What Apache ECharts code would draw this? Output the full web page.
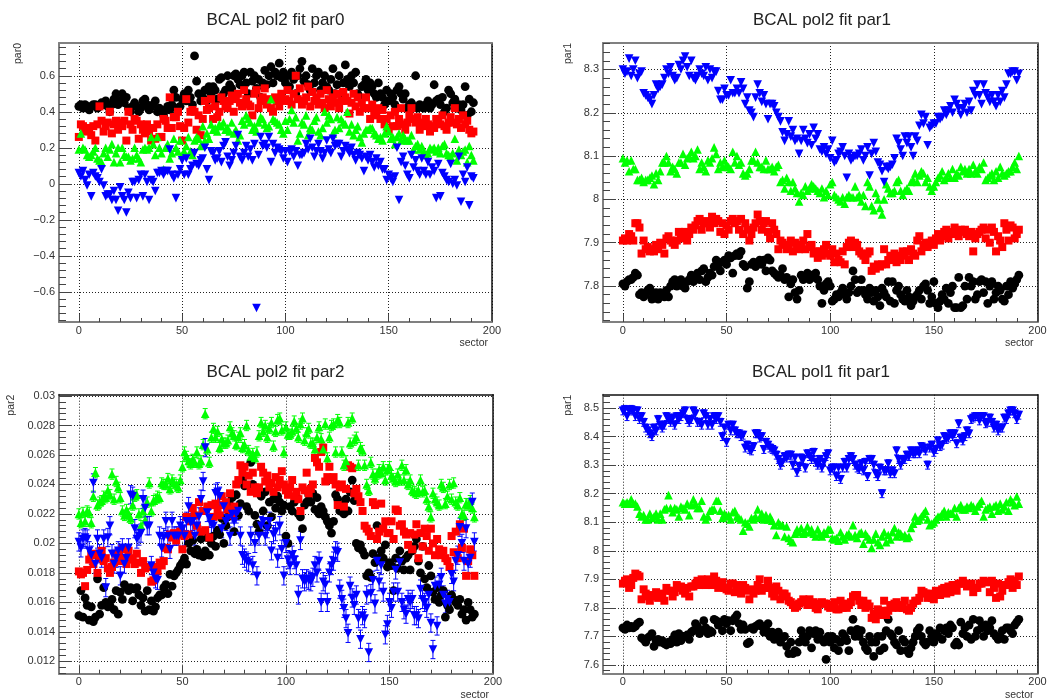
<!DOCTYPE html>
<html><head><meta charset="utf-8">
<style>html,body{margin:0;padding:0;background:#fff}#c{width:1050px;height:698px}</style>
<script src="https://cdn.jsdelivr.net/npm/echarts@6/dist/echarts.min.js"></script>
</head><body><div id="c"></div>
<script>
// par0 fit values, units of 0.01
const par0Black=[43,44,42,44,43,41,43,44,44,42,43,45,44,46,43,40,44,47,50,44,
46,50,45,48,42,40,43,45,43,40,42,46,47,44,41,43,44,46,40,42,
40,38,41,43,41,44,52,48,42,43,47,50,46,52,48,44,71,57,50,46,
48,52,46,54,50,54,52,47,58,59,50,52,60,55,53,60,61,58,55,60,
62,56,50,62,57,60,53,58,48,56,63,55,60,65,56,62,60,67,59,62,
56,60,54,62,58,50,60,64,68,57,60,55,52,64,56,60,62,52,56,60,
54,52,58,64,50,55,60,50,56,66,58,54,60,56,62,50,48,54,55,58,
52,56,54,50,48,56,50,48,44,52,46,50,48,44,52,54,50,47,50,42,
44,45,43,60,42,44,43,42,44,46,42,44,55,46,47,44,48,40,42,52,
50,45,47,42,44,41,44,54,38,47,40,45];
const par0Red=[26,33,32,29,31,30,27,32,24,33,43,35,29,32,34,40,28,33,35,30,
34,32,35,24,40,33,30,36,35,25,33,30,28,33,29,24,31,25,33,26,
26,36,35,31,48,31,37,37,40,32,24,31,47,34,40,41,40,30,38,27,
36,46,41,42,47,36,43,37,40,48,46,43,42,46,49,40,47,50,45,43,
52,47,44,43,38,50,52,42,46,48,53,44,47,42,40,48,46,43,50,46,
47,52,46,44,50,60,47,53,44,46,48,54,43,51,46,48,44,50,45,42,
52,47,43,48,45,50,42,46,51,48,46,39,45,50,43,48,40,45,42,48,
42,36,44,40,38,42,36,41,33,36,30,38,32,40,32,36,42,33,30,34,
38,42,36,34,37,30,34,32,36,33,29,32,31,36,35,33,38,32,30,34,
37,34,42,33,36,31,38,33,35,30,28,29];
const par0Green=[19,28,20,19,16,15,16,18,20,14,13,12,17,20,15,19,22,12,17,20,
12,20,16,15,15,13,14,20,16,14,12,19,20,19,20,26,22,16,26,20,
17,8,20,22,14,17,25,20,18,24,16,18,21,26,18,16,24,26,25,21,
32,24,28,25,33,30,31,29,33,32,34,30,31,29,34,28,30,24,27,35,
33,38,36,34,30,32,29,34,37,36,33,31,32,47,36,35,34,33,30,28,
35,30,36,41,34,37,24,28,34,33,38,27,31,30,35,37,29,27,31,40,
34,38,36,28,30,37,31,36,34,33,40,29,33,27,30,32,26,23,28,30,
30,31,31,28,27,25,26,24,28,32,29,25,26,22,26,28,24,27,25,24,
24,27,19,21,22,19,21,18,16,17,20,19,20,18,20,17,21,22,17,16,
15,17,25,13,19,16,18,19,12,21,16,13];
const par0Blue=[6,4,7,2,-1,5,-7,6,4,3,1,8,-1,-7,-6,-6,-9,-4,-9,-15,
-2,-7,-9,-16,-5,-8,1,1,-8,2,5,-7,5,1,-9,2,1,-4,6,6,
7,5,7,7,19,5,3,-8,5,8,13,5,14,5,8,10,17,11,10,13,
14,20,8,2,18,17,13,14,18,12,21,23,15,10,13,17,21,27,15,13,
17,21,15,19,13,22,-69,16,26,21,22,20,26,12,22,17,20,19,18,14,
18,12,18,19,15,18,10,16,16,17,22,19,25,20,15,18,22,18,14,17,
24,19,17,25,21,22,22,15,18,21,19,17,20,16,13,17,16,14,7,15,
13,16,12,9,14,10,12,8,8,2,5,3,1,4,20,-9,12,15,10,5,
3,16,9,13,7,5,14,7,5,12,5,9,7,-8,11,-7,6,4,2,1,
11,0,2,-1,15,-10,5,1,9,-12,4,3];
// par1 (pol2) values, units of 0.001
const par1Black=[7805,7800,7810,7815,7815,7820,7830,7825,7780,7785,7775,7780,7790,7795,7770,7780,7785,7770,7785,7780,
7775,7790,7775,7800,7810,7815,7800,7810,7815,7800,7795,7810,7815,7825,7810,7820,7830,7815,7835,7840,
7810,7820,7830,7825,7845,7860,7850,7835,7855,7860,7850,7870,7865,7830,7870,7875,7870,7880,7850,7845,
7795,7810,7850,7855,7845,7850,7860,7850,7860,7835,7865,7860,7835,7830,7825,7820,7825,7840,7815,7820,
7775,7805,7815,7785,7770,7790,7825,7815,7820,7830,7815,7825,7820,7830,7815,7800,7760,7790,7805,7810,
7800,7765,7770,7780,7775,7785,7795,7780,7770,7785,7800,7835,7815,7785,7790,7815,7790,7780,7770,7795,
7785,7765,7790,7775,7755,7795,7785,7775,7810,7765,7810,7760,7790,7800,7780,7770,7765,7790,7775,7755,
7765,7775,7780,7790,7770,7800,7805,7790,7760,7775,7810,7760,7750,7765,7780,7770,7795,7760,7785,7800,
7750,7750,7820,7750,7755,7800,7770,7820,7800,7810,7770,7780,7810,7815,7785,7810,7760,7800,7810,7770,
7785,7800,7790,7770,7765,7800,7780,7810,7795,7805,7815,7825];
const par1Red=[7905,7910,7905,7920,7915,7905,7945,7945,7935,7875,7905,7885,7890,7880,7885,7880,7895,7885,7900,7895,
7875,7910,7915,7905,7900,7895,7905,7925,7915,7910,7925,7905,7920,7935,7930,7940,7950,7955,7930,7945,
7950,7945,7935,7960,7945,7955,7950,7925,7945,7920,7940,7930,7950,7955,7945,7950,7930,7955,7920,7945,
7930,7905,7920,7935,7945,7965,7950,7930,7945,7950,7925,7910,7945,7930,7920,7885,7905,7900,7895,7885,
7895,7905,7880,7900,7895,7885,7895,7905,7885,7920,7890,7895,7875,7880,7865,7880,7870,7885,7895,7875,
7870,7885,7855,7875,7860,7855,7880,7850,7890,7900,7905,7890,7900,7895,7880,7875,7870,7860,7875,7880,
7835,7845,7840,7850,7845,7850,7885,7850,7860,7870,7860,7875,7855,7870,7860,7880,7870,7880,7860,7885,
7875,7870,7905,7915,7880,7895,7900,7890,7900,7905,7895,7910,7920,7905,7915,7925,7930,7910,7925,7920,
7935,7925,7915,7930,7925,7930,7920,7915,7925,7880,7910,7920,7925,7930,7935,7910,7930,7900,7935,7925,
7880,7915,7905,7890,7945,7930,7905,7940,7935,7910,7920,7930];
const par1Green=[8095,8085,8090,8065,8090,8070,8070,8045,8045,8050,8040,8045,8045,8050,8055,8035,8060,8045,8065,8085,
8085,8100,8085,8065,8075,8070,8060,8085,8085,8105,8080,8095,8100,8110,8095,8100,8115,8070,8085,8075,
8065,8090,8085,8095,8120,8105,8070,8085,8075,8090,8080,8075,8070,8110,8085,8100,8080,8085,8060,8055,
8060,8070,8090,8090,8110,8085,8075,8075,8070,8090,8070,8070,8075,8065,8075,8080,8040,8045,8025,8050,
8040,8020,8040,8025,8015,7995,8015,8010,8030,8020,8025,8035,8030,8025,8020,8015,8025,8005,8020,8010,
8035,8040,8010,8005,8000,7995,8005,7990,8005,8010,8005,8005,8030,8005,8010,7995,8010,7985,8040,8030,
7985,7975,8015,8000,7980,7965,8000,8035,8025,8015,8015,8020,8040,8045,8020,8010,8020,8025,8020,8040,
8045,8060,8040,8055,8065,8060,8040,8050,8030,8020,8030,8040,8050,8055,8065,8045,8050,8060,8050,8070,
8050,8060,8055,8075,8065,8070,8060,8070,8060,8080,8065,8060,8075,8070,8085,8045,8050,8055,8060,8045,
8065,8050,8075,8060,8055,8060,8065,8065,8075,8085,8070,8100];
const par1Blue=[8300,8290,8295,8325,8285,8300,8320,8280,8290,8295,8245,8240,8235,8230,8220,8240,8265,8255,8260,8265,
8280,8300,8290,8305,8285,8275,8280,8310,8300,8320,8330,8305,8285,8320,8280,8275,8285,8300,8290,8285,
8305,8275,8300,8280,8295,8295,8250,8230,8230,8255,8240,8240,8275,8245,8245,8255,8245,8270,8255,8220,
8235,8205,8200,8190,8235,8265,8245,8225,8240,8220,8185,8220,8220,8215,8200,8190,8180,8155,8135,8150,
8180,8145,8160,8135,8140,8105,8135,8160,8140,8130,8150,8125,8165,8140,8150,8115,8110,8120,8105,8115,
8095,8135,8085,8090,8105,8110,8120,8100,8050,8105,8090,8095,8100,8100,8105,8115,8090,8100,8120,8055,
8105,8130,8110,8085,8080,8065,8040,8075,8070,8075,8080,8095,8140,8130,8115,8100,8145,8130,8145,8120,
8100,8145,8135,8170,8195,8175,8190,8125,8165,8170,8175,8175,8190,8185,8190,8205,8195,8205,8215,8200,
8230,8220,8210,8195,8210,8220,8200,8225,8205,8250,8240,8265,8240,8220,8265,8245,8235,8225,8240,8225,
8215,8240,8225,8250,8235,8265,8290,8290,8295,8295,8275,8290];
// par2 values, units of 0.0001
const par2Black=[151,168,150,163,158,148,157,147,150,176,152,158,170,160,157,158,162,155,168,152,
167,162,172,170,168,170,161,169,170,165,158,163,154,168,155,161,154,157,163,165,
165,170,172,166,179,171,178,180,182,185,187,190,186,200,195,202,193,196,192,203,
191,195,204,192,200,205,198,209,206,217,200,212,218,226,231,208,233,219,227,243,
239,225,222,255,240,219,213,208,232,222,235,212,228,218,230,224,232,228,222,226,
205,200,225,222,228,232,220,218,210,226,228,233,228,234,223,231,220,225,222,218,
215,212,207,215,233,230,222,226,220,230,222,235,243,229,200,197,199,195,192,178,
180,177,193,187,212,190,195,190,199,184,187,185,168,190,183,195,188,182,190,192,
182,195,198,203,188,180,198,176,170,185,178,167,162,170,160,165,168,150,158,155,
165,162,160,158,162,152,155,148,160,155,150,152];
const par2Red=[181,179,180,171,182,189,192,186,193,180,190,195,188,190,183,180,184,187,193,192,
188,196,190,186,195,189,190,186,193,187,180,188,183,184,184,174,175,184,181,187,
185,188,197,196,206,204,207,202,206,208,196,205,218,206,215,224,219,212,228,208,
222,209,225,204,226,218,227,223,219,232,226,228,223,234,219,225,240,243,253,248,
252,240,246,235,248,238,234,238,252,248,242,246,238,241,235,245,238,243,249,240,
236,233,238,243,232,235,230,222,238,236,248,234,237,240,258,255,252,262,265,242,
245,252,243,245,240,226,238,240,225,237,253,252,251,234,237,232,228,222,212,210,
208,205,228,226,203,208,227,210,215,207,207,215,203,223,222,212,213,208,206,199,
207,196,206,213,190,207,198,210,205,195,210,200,192,203,196,192,195,190,188,184,
205,194,208,190,213,197,210,178,188,196,192,178];
const par2Green=[220,214,221,215,222,221,214,232,248,226,228,229,232,231,236,233,247,230,242,238,
231,222,219,223,220,217,226,232,233,220,212,222,216,228,241,222,229,230,232,231,
241,240,240,244,237,243,241,240,238,243,252,262,259,256,254,257,255,262,254,256,
267,288,264,255,272,278,272,276,265,271,268,268,270,279,275,273,267,272,275,265,
267,280,263,259,261,258,262,273,282,276,280,272,278,282,266,276,284,285,277,262,
279,274,274,276,283,278,272,281,285,270,275,278,268,268,264,272,279,271,264,281,
258,272,280,281,262,284,282,262,253,256,282,268,285,270,272,253,265,263,253,240,
236,255,247,244,247,250,248,252,243,250,252,246,244,242,247,243,253,243,250,240,
243,236,235,234,236,243,235,236,230,225,218,234,230,228,226,240,238,227,232,240,
230,241,228,226,231,220,219,227,226,229,224,218];
const par2Blue=[201,197,203,204,203,195,192,241,186,203,193,190,203,170,204,212,193,186,190,195,
178,197,186,190,197,233,232,210,203,205,207,230,224,212,212,185,180,176,175,205,
197,204,215,205,196,215,205,205,205,212,210,205,215,225,214,215,205,212,218,230,
242,265,221,217,213,212,234,235,232,210,225,215,217,205,220,215,220,222,205,192,
190,188,187,205,185,200,178,205,212,215,205,210,215,195,206,208,190,212,196,178,
200,189,185,192,189,185,165,202,176,174,176,175,174,177,185,180,188,160,174,172,
160,180,185,188,195,194,169,162,156,149,139,171,163,158,165,149,135,151,149,165,
126,166,175,159,188,174,185,167,138,145,160,156,167,182,167,187,160,155,152,162,
160,162,151,151,149,169,162,160,156,165,146,128,171,144,172,177,165,159,162,160,
179,174,188,192,211,200,188,210,186,190,228,201];
const par2ErrGreen=0.00035;
const par2ErrBlue=0.00062;
// par1 (pol1) values, units of 0.001
const pol1Black=[7730,7725,7740,7730,7735,7730,7735,7745,7750,7695,7690,7680,7695,7700,7710,7665,7685,7690,7680,7685,
7675,7670,7680,7675,7690,7705,7680,7710,7685,7700,7700,7705,7690,7715,7720,7745,7735,7710,7720,7755,
7730,7710,7720,7715,7760,7755,7740,7750,7720,7760,7745,7755,7720,7755,7765,7775,7745,7725,7740,7725,
7675,7680,7730,7725,7735,7740,7745,7735,7715,7725,7745,7700,7715,7690,7700,7715,7680,7695,7700,7665,
7640,7680,7640,7650,7645,7680,7720,7700,7680,7700,7720,7660,7710,7720,7690,7715,7690,7680,7620,7700,
7680,7700,7660,7690,7650,7680,7710,7700,7685,7650,7720,7760,7700,7725,7700,7720,7680,7660,7650,7700,
7680,7630,7680,7700,7650,7700,7660,7720,7760,7710,7700,7680,7670,7720,7650,7690,7680,7650,7640,7660,
7680,7700,7720,7730,7700,7680,7670,7680,7720,7700,7680,7710,7700,7730,7690,7720,7730,7710,7740,7730,
7670,7680,7670,7750,7710,7730,7700,7740,7690,7760,7700,7720,7755,7730,7700,7740,7720,7730,7755,7710,
7700,7690,7700,7720,7690,7730,7730,7720,7710,7740,7750,7760];
const pol1Red=[7885,7895,7900,7870,7880,7905,7920,7915,7910,7830,7865,7850,7840,7825,7845,7840,7855,7835,7850,7845,
7825,7870,7860,7860,7840,7855,7880,7870,7875,7860,7850,7870,7840,7875,7875,7885,7895,7880,7900,7890,
7880,7900,7885,7880,7910,7895,7870,7885,7890,7870,7865,7860,7885,7885,7855,7880,7860,7850,7880,7870,
7860,7830,7865,7850,7860,7880,7900,7860,7870,7870,7895,7870,7850,7840,7875,7860,7830,7850,7850,7840,
7825,7820,7810,7800,7805,7815,7820,7830,7825,7810,7830,7810,7820,7800,7795,7815,7820,7815,7815,7805,
7800,7810,7820,7795,7795,7825,7800,7815,7800,7810,7820,7840,7845,7845,7825,7810,7825,7800,7815,7805,
7765,7780,7760,7795,7775,7790,7825,7775,7790,7810,7800,7815,7820,7800,7810,7800,7825,7795,7790,7800,
7815,7825,7825,7835,7860,7855,7850,7835,7850,7835,7830,7860,7850,7845,7865,7870,7850,7875,7855,7880,
7880,7860,7885,7885,7895,7885,7875,7880,7885,7855,7870,7870,7885,7885,7895,7890,7890,7855,7895,7870,
7835,7885,7840,7860,7880,7880,7890,7900,7870,7895,7880,7910];
const pol1Green=[8170,8165,8170,8165,8180,8165,8165,8155,8130,8120,8125,8110,8110,8130,8115,8120,8130,8110,8130,8110,
8145,8150,8195,8150,8135,8150,8145,8120,8155,8150,8145,8165,8125,8160,8180,8165,8150,8150,8175,8120,
8110,8120,8140,8145,8145,8175,8175,8140,8115,8130,8120,8125,8110,8135,8140,8120,8115,8110,8070,8100,
8095,8085,8115,8110,8120,8145,8115,8130,8110,8125,8110,8120,8105,8090,8055,8100,8090,8090,8050,8085,
8045,8035,8030,8060,8075,8065,8080,8060,8065,8085,8065,8075,8060,8050,8075,8060,8050,8065,8060,8075,
8075,8045,8040,8045,8035,8065,8050,8040,8055,8060,8050,8090,8055,8045,8060,8065,8025,8060,8050,8040,
8010,8040,8060,8030,8020,8050,8065,8030,8055,8040,8065,8080,8050,8065,8060,8050,8055,8045,8050,8080,
8095,8120,8105,8110,8120,8130,8140,8110,8090,8095,8100,8110,8120,8120,8130,8140,8120,8135,8130,8130,
8150,8120,8150,8160,8145,8145,8155,8150,8160,8155,8140,8155,8165,8175,8120,8145,8150,8155,8130,8155,
8160,8140,8165,8145,8155,8170,8140,8180,8170,8160,8190,8165];
const pol1Blue=[8490,8495,8470,8490,8495,8490,8470,8490,8460,8470,8450,8430,8420,8410,8400,8430,8420,8460,8440,8430,
8440,8470,8460,8450,8465,8440,8470,8460,8470,8480,8490,8460,8450,8460,8490,8480,8450,8450,8440,8480,
8470,8440,8460,8440,8470,8460,8470,8450,8400,8430,8380,8440,8420,8440,8420,8410,8410,8400,8405,8360,
8370,8355,8350,8365,8410,8410,8395,8400,8355,8380,8370,8360,8355,8350,8335,8320,8300,8310,8330,8325,
8335,8335,8300,8325,8275,8295,8325,8320,8290,8340,8330,8320,8345,8310,8300,8320,8290,8310,8330,8340,
8280,8290,8290,8260,8290,8250,8290,8310,8290,8320,8330,8320,8300,8290,8285,8305,8280,8310,8260,8320,
8320,8300,8270,8260,8290,8200,8280,8280,8305,8270,8280,8270,8350,8320,8300,8320,8320,8335,8330,8350,
8340,8340,8350,8340,8365,8360,8350,8300,8360,8370,8345,8355,8385,8365,8370,8400,8390,8395,8410,8400,
8410,8375,8445,8395,8385,8400,8420,8410,8460,8465,8470,8470,8455,8470,8470,8445,8450,8465,8450,8430,
8440,8420,8430,8430,8465,8460,8480,8490,8490,8480,8460,8475];
const pol1ErrBlue=0.014;

const xMajor=[0,50,100,150,200];
const xMinor=[10,20,30,40,60,70,80,90,110,120,130,140,160,170,180,190];
const panels=[
 {title:'BCAL pol2 fit par0',yName:'par0',nameX:24,titleX:275.5,scale:100,data:[par0Black,par0Red,par0Green,par0Blue],err:[0,0,0,0],
  left:59,top:43,width:433,height:279,yMin:-0.768,yMax:0.782,major:[-0.6,-0.4,-0.2,0,0.2,0.4,0.6],step:0.04,topColor:'#808080'},
 {title:'BCAL pol2 fit par1',yName:'par1',nameX:574,titleX:822,scale:1000,data:[par1Black,par1Red,par1Green,par1Blue],err:[0,0,0,0],
  left:603,top:43,width:434.5,height:279,yMin:7.717,yMax:8.361,major:[7.8,7.9,8,8.1,8.2,8.3],step:0.02,topColor:'#808080'},
 {title:'BCAL pol2 fit par2',yName:'par2',nameX:17,titleX:275.5,scale:10000,data:[par2Black,par2Red,par2Green,par2Blue],err:[0,0,par2ErrGreen,par2ErrBlue],
  left:59,top:394.7,width:434,height:279,yMin:0.01116,yMax:0.03009,major:[0.012,0.014,0.016,0.018,0.02,0.022,0.024,0.026,0.028,0.03],step:0.0004,topColor:'#111'},
 {title:'BCAL pol1 fit par1',yName:'par1',nameX:574,titleX:821,scale:1000,data:[pol1Black,pol1Red,pol1Green,pol1Blue],err:[0,0,0,pol1ErrBlue],
  left:603,top:394.7,width:434.5,height:279,yMin:7.5695,yMax:8.5466,major:[7.6,7.7,7.8,7.9,8,8.1,8.2,8.3,8.4,8.5],step:0.02,topColor:'#111'}
];
const colors=['#000000','#ff0000','#00ff00','#0000ff'];
const symbols=[['circle',8.8,0],['rect',8,0],['triangle',8.6,0],['triangle',8.6,180]];
const FONT='"Liberation Sans",Arial,sans-serif';
const GREY='#808080', TICK='#444', TEXT='#333';
const fmt=v=>String(+(+v).toFixed(4)).replace('-','\u2212');

function yMinor(p){
  const out=[];const n0=Math.ceil(p.yMin/p.step),n1=Math.floor(p.yMax/p.step);
  for(let n=n0;n<=n1;n++){const v=+(n*p.step).toFixed(5);
    if(!p.major.some(m=>Math.abs(m-v)<1e-6))out.push(v);}
  return out;
}
const grid=[],xAxis=[],yAxis=[],series=[],title=[],graphic=[];
panels.forEach((p,i)=>{
  grid.push({left:p.left,top:p.top,width:p.width,height:p.height,containLabel:false});
  const xb={type:'value',gridIndex:i,min:-9.6,max:200,position:'bottom',scale:true};
  const yb={type:'value',gridIndex:i,min:p.yMin,max:p.yMax,position:'left',scale:true};
  const xi=xAxis.length, yi=yAxis.length;
  xAxis.push({...xb,
    axisLine:{show:true,onZero:false,lineStyle:{color:GREY,width:2}},
    axisTick:{show:true,inside:true,length:8,customValues:xMajor,lineStyle:{color:TICK}},
    axisLabel:{show:true,customValues:xMajor,margin:3,fontFamily:FONT,fontSize:11,color:TEXT,formatter:fmt,hideOverlap:false},
    splitLine:{show:true,lineStyle:{type:[1,2],color:'#222',width:1}}});
  xAxis.push({...xb,
    axisLine:{show:false,onZero:false},
    axisTick:{show:true,inside:true,length:4,customValues:xMinor,lineStyle:{color:TICK}},
    axisLabel:{show:false},splitLine:{show:false}});
  xAxis.push({...xb,position:'top',
    axisLine:{show:true,onZero:false,lineStyle:{color:p.topColor,width:p.topColor==='#808080'?2:1.5}},
    axisTick:{show:false},axisLabel:{show:false},splitLine:{show:false}});
  yAxis.push({...yb,
    axisLine:{show:true,onZero:false,lineStyle:{color:GREY,width:2}},
    axisTick:{show:true,inside:true,length:13,customValues:p.major,lineStyle:{color:TICK}},
    axisLabel:{show:true,customValues:p.major,margin:4,fontFamily:FONT,fontSize:11,color:TEXT,formatter:fmt,hideOverlap:false},
    splitLine:{show:true,lineStyle:{type:[1,2],color:'#222',width:1}}});
  yAxis.push({...yb,
    axisLine:{show:false,onZero:false},
    axisTick:{show:true,inside:true,length:7,customValues:yMinor(p),lineStyle:{color:TICK}},
    axisLabel:{show:false},splitLine:{show:false}});
  yAxis.push({...yb,position:'right',
    axisLine:{show:true,onZero:false,lineStyle:{color:'#111',width:1.5}},
    axisTick:{show:false},axisLabel:{show:false},splitLine:{show:false}});
  p.data.forEach((arr,k)=>{
    const pts=arr.map((v,s)=>[s,v/p.scale]);
    if(p.err[k]>0){
      series.push({type:'custom',xAxisIndex:xi,yAxisIndex:yi,silent:true,clip:true,animation:false,
        data:pts.map(q=>[q[0],q[1]-p.err[k],q[1]+p.err[k]]),
        encode:{x:0,y:[1,2]},
        renderItem:(params,api)=>{
          const a=api.coord([api.value(0),api.value(1)]),b=api.coord([api.value(0),api.value(2)]);
          const st={stroke:colors[k],lineWidth:1,fill:null};
          return {type:'group',children:[
            {type:'line',shape:{x1:a[0],y1:a[1],x2:b[0],y2:b[1]},style:st},
            {type:'line',shape:{x1:a[0]-2.5,y1:a[1],x2:a[0]+2.5,y2:a[1]},style:st},
            {type:'line',shape:{x1:b[0]-2.5,y1:b[1],x2:b[0]+2.5,y2:b[1]},style:st}]};
        }});
    }
    series.push({type:'scatter',xAxisIndex:xi,yAxisIndex:yi,data:pts,symbol:symbols[k][0],symbolSize:symbols[k][1],
      symbolRotate:symbols[k][2],itemStyle:{color:colors[k],opacity:1},silent:true,animation:false,progressive:0,large:false});
  });
  title.push({text:p.title,left:p.titleX,top:p.top-31,padding:0,textAlign:'center',
    textStyle:{fontFamily:FONT,fontSize:17,fontWeight:'normal',color:'#222'}});
  graphic.push({type:'text',x:p.left+p.width-32.5,y:p.top+p.height+16,silent:true,
    style:{text:'sector',font:'10.5px '+FONT,fill:TEXT}});
  graphic.push({type:'text',x:p.nameX,y:p.top+21,rotation:Math.PI/2,silent:true,originX:0,originY:0,
    style:{text:p.yName,font:'10.5px '+FONT,fill:TEXT,textAlign:'left',textVerticalAlign:'bottom'}});
});
const chart=echarts.init(document.getElementById('c'),null,{renderer:'canvas'});
chart.setOption({animation:false,backgroundColor:'#fff',title,grid,xAxis,yAxis,series,graphic,tooltip:{show:false},legend:{show:false}});
</script></body></html>
